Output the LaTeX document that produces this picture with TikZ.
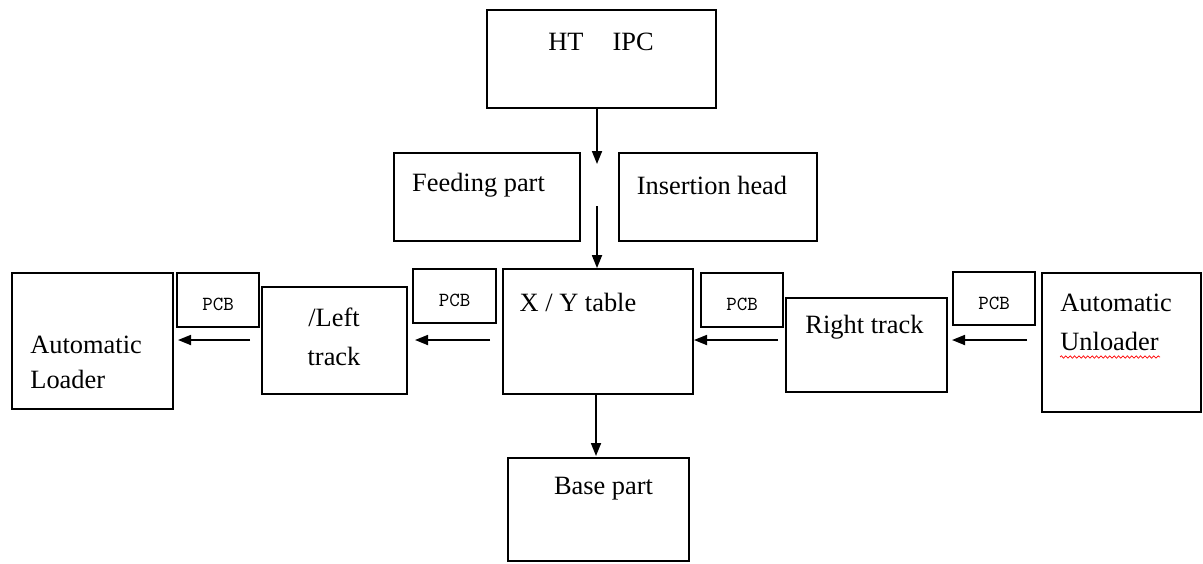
\documentclass[tikz,border=0pt]{standalone}
\usepackage{fontspec}
\setmainfont{Liberation Serif}
\usetikzlibrary{arrows.meta,decorations.pathmorphing}
\tikzstyle{block}=[draw, line width=0.9pt, inner sep=0pt]
\tikzstyle{pcb}=[block, font=\ttfamily\fontsize{10}{11}\selectfont, text height=10.5pt, text depth=0pt]
\tikzstyle{txt}=[font=\fontsize{13.2}{17.5}\selectfont, inner sep=0pt]
\tikzstyle{txtwide}=[font=\fontsize{13.2}{19.5}\selectfont, inner sep=0pt]
\tikzstyle{arrow}=[-{Triangle[length=6.5pt,width=5pt]}, line width=0.9pt]

\begin{document}
\begin{tikzpicture}[x=0.5pt, y=-0.5pt]
		   \useasboundingbox (0,0) rectangle (1203,563);
		   \begin{scope}
			   \node (ipc) at (601.5, 59)[block, minimum width=114.5pt, minimum height=49pt] {};
			   \node (feed) at (487, 197)[block, minimum width=93pt, minimum height=44pt] {};
			   \node (ins) at (718, 197)[block, minimum width=99pt, minimum height=44pt] {};
			   \node (xy) at (598, 331.5)[block, minimum width=95pt, minimum height=62.5pt] {};
			   \node (base) at (598.5, 509.5)[block, minimum width=90.5pt, minimum height=51.5pt] {};

			   \node (load) at (92.5, 341)[block, minimum width=80.5pt, minimum height=68pt] {};
			   \node (pcb1) at (218, 300)[pcb, minimum width=41pt, minimum height=27pt] {PCB};
			   \node (left) at (334.5, 340.5)[block, minimum width=72.5pt, minimum height=53.5pt] {};
			   \node (pcb2) at (454.5, 296)[pcb, minimum width=41.5pt, minimum height=27pt] {PCB};
			   \node (pcb3) at (742, 300)[pcb, minimum width=41pt, minimum height=27pt] {PCB};
			   \node (right) at (866.5, 345)[block, minimum width=80.5pt, minimum height=47pt] {};
			   \node (pcb4) at (994, 298.5)[pcb, minimum width=41pt, minimum height=26.5pt] {PCB};
			   \node (unl) at (1121.5, 342.5)[block, minimum width=79.5pt, minimum height=69.5pt] {};

			   \node (ipct) at (601, 42)[txt] {HT\hspace{1.1em}IPC};
			   \node (feedt) at (478.5, 185)[txt] {Feeding part};
			   \node (inst) at (712, 185)[txt] {Insertion head};
			   \node (xyt) at (578, 302)[txt] {X / Y table};
			   \node (baset) at (603.5, 489)[txt] {Base part};
			   \node (loadt) at (30, 362)[txt, anchor=west, align=left] {Automatic\\Loader};
			   \node (leftt) at (334, 337)[txtwide, align=center] {/Left\\track};
			   \node (rightt) at (864.5, 327)[txt] {Right track};
			   \node (unlt) at (1060, 322)[txtwide, anchor=west, align=left] {Automatic\\Unloader};
		   \end{scope}
		   \begin{scope}
			   \coordinate (v1) at (597, 164);
			   \coordinate (v2) at (597, 206);
			   \coordinate (v3) at (596, 456);
			   \coordinate (h1a) at (250, 340);
			   \coordinate (h1b) at (178, 340);
			   \coordinate (h2a) at (490, 340);
			   \coordinate (h2b) at (415, 340);
			   \coordinate (h3a) at (778, 340);
			   \coordinate (h3b) at (694, 340);
			   \coordinate (h4a) at (1027, 340);
			   \coordinate (h4b) at (952, 340);
			   \coordinate (w1) at (1060, 357);
			   \coordinate (w2) at (1160, 357);

			   \path [arrow] (ipc.south -| v1) edge (v1);
			   \path [arrow] (v2) edge (xy.north -| v2);
			   \path [arrow] (xy.south -| v3) edge (v3);

			   \path [arrow] (h1a) edge (h1b);
			   \path [arrow] (h2a) edge (h2b);
			   \path [arrow] (h3a) edge (h3b);
			   \path [arrow] (h4a) edge (h4b);

			   \draw [red, line width=0.35pt, decorate, decoration={snake, amplitude=0.6pt, segment length=2.2pt}] (w1) -- (w2);
		   \end{scope}
	   \end{tikzpicture}
\end{document}
